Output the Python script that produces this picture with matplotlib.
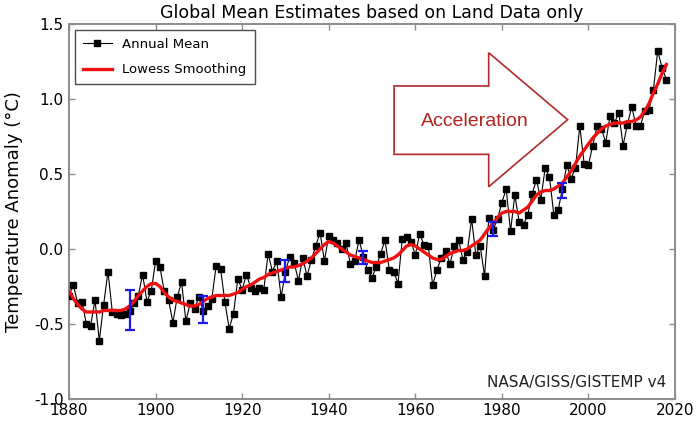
import matplotlib
matplotlib.use('Agg')
import matplotlib.pyplot as plt
from matplotlib.patches import Polygon
import numpy as np

# --- data ---
years = np.arange(1880, 2019)

annual_mean = [
    -0.31, -0.24, -0.36, -0.35, -0.50, -0.51, -0.34, -0.61, -0.37, -0.15,   # 1880s
    -0.42, -0.43, -0.44, -0.43, -0.41, -0.36, -0.31, -0.17, -0.35, -0.28,   # 1890s
    -0.08, -0.12, -0.28, -0.34, -0.49, -0.32, -0.22, -0.48, -0.36, -0.40,   # 1900s
    -0.32, -0.41, -0.38, -0.33, -0.11, -0.13, -0.35, -0.53, -0.43, -0.20,   # 1910s
    -0.27, -0.17, -0.26, -0.28, -0.26, -0.27, -0.03, -0.15, -0.08, -0.32,   # 1920s
    -0.15, -0.05, -0.09, -0.21, -0.06, -0.18, -0.07, 0.02, 0.11, -0.08,     # 1930s
    0.09, 0.06, 0.04, 0.00, 0.04, -0.10, -0.08, 0.06, -0.05, -0.14,         # 1940s
    -0.19, -0.12, -0.03, 0.06, -0.14, -0.15, -0.23, 0.07, 0.08, 0.05,       # 1950s
    -0.04, 0.10, 0.03, 0.02, -0.24, -0.14, -0.06, -0.01, -0.10, 0.02,       # 1960s
    0.06, -0.07, -0.02, 0.20, -0.04, 0.02, -0.18, 0.21, 0.13, 0.20,         # 1970s
    0.31, 0.40, 0.12, 0.36, 0.18, 0.16, 0.23, 0.37, 0.46, 0.33,             # 1980s
    0.54, 0.48, 0.23, 0.26, 0.40, 0.56, 0.47, 0.54, 0.82, 0.57,             # 1990s
    0.56, 0.69, 0.82, 0.80, 0.71, 0.89, 0.84, 0.91, 0.69, 0.83,             # 2000s
    0.95, 0.82, 0.82, 0.92, 0.93, 1.06, 1.32, 1.21, 1.13,                   # 2010s
]

lowess = [
    -0.28, -0.33, -0.37, -0.40, -0.42, -0.42, -0.42, -0.42, -0.41, -0.41,
    -0.41, -0.41, -0.41, -0.40, -0.38, -0.35, -0.31, -0.28, -0.25, -0.23,
    -0.23, -0.25, -0.29, -0.32, -0.34, -0.35, -0.36, -0.37, -0.38, -0.38,
    -0.37, -0.35, -0.33, -0.32, -0.31, -0.31, -0.31, -0.31, -0.30, -0.29,
    -0.27, -0.25, -0.24, -0.22, -0.20, -0.19, -0.17, -0.16, -0.15, -0.14,
    -0.13, -0.12, -0.12, -0.11, -0.10, -0.08, -0.06, -0.03, 0.00, 0.03,
    0.05, 0.04, 0.02, 0.00, -0.02, -0.04, -0.05, -0.06, -0.07, -0.08,
    -0.09, -0.09, -0.09, -0.08, -0.07, -0.06, -0.04, -0.01, 0.02, 0.03,
    0.02, 0.00, -0.02, -0.04, -0.06, -0.07, -0.07, -0.05, -0.03, -0.02,
    -0.01, -0.01, 0.00, 0.02, 0.04, 0.06, 0.10, 0.14, 0.17, 0.21,
    0.24, 0.25, 0.25, 0.25, 0.24, 0.26, 0.28, 0.32, 0.36, 0.38,
    0.39, 0.39, 0.40, 0.42, 0.44, 0.48, 0.52, 0.57, 0.62, 0.66,
    0.70, 0.74, 0.77, 0.80, 0.82, 0.83, 0.84, 0.84, 0.84, 0.85,
    0.85, 0.86, 0.88, 0.92, 0.97, 1.04, 1.10, 1.17, 1.23,
]

# uncertainty bars
err_years = [1894, 1911, 1930, 1948, 1978, 1994]
err_center = [-0.405, -0.40, -0.145, -0.055, 0.135, 0.39]
err_half = [0.135, 0.09, 0.075, 0.045, 0.045, 0.05]

fig = plt.figure(figsize=(7.0, 4.22), dpi=100)
ax = fig.add_axes([0.0986, 0.0545, 0.8657, 0.8886])

ax.plot(years, annual_mean, color='black', lw=0.8, marker='s', ms=5,
        mec='black', mfc='black', label='Annual Mean', zorder=3)
ax.plot(years, lowess, color='#ee1111', lw=2.4, label='Lowess Smoothing', zorder=4)
ax.errorbar(err_years, err_center, yerr=err_half, fmt='none', ecolor='#1a1aee',
            elinewidth=1.6, capsize=3.5, capthick=1.6, zorder=5)

# hollow "Acceleration" arrow
arrow = Polygon([(1955.1, 1.087), (1976.95, 1.087), (1976.95, 1.309), (1995.2, 0.862),
                 (1976.95, 0.415), (1976.95, 0.631), (1955.1, 0.631)],
                closed=True, fc='white', ec='#b02a2a', lw=1.2, zorder=2)
ax.add_patch(arrow)
ax.text(1973.7, 0.848, 'Acceleration', color='#b5231f', fontsize=14,
        family='Liberation Sans', ha='center', va='center', zorder=6)

ax.text(0.985, 0.045, 'NASA/GISS/GISTEMP v4', transform=ax.transAxes,
        ha='right', va='center', fontsize=11, color='#222222')

ax.set_xlim(1880, 2020)
ax.set_ylim(-1.0, 1.5)
ax.set_xticks(range(1880, 2021, 20))
ax.set_yticks([-1.0, -0.5, 0.0, 0.5, 1.0, 1.5])
ax.set_yticklabels(['-1.0', '-0.5', '0.0', '0.5', '1.0', '1.5'])
ax.tick_params(direction='in', top=True, right=True, length=4, width=1,
               color='0.55', labelsize=11)
ax.tick_params(axis='y', pad=4)
ax.tick_params(axis='x', pad=3)
for s in ax.spines.values():
    s.set_color('0.55')
    s.set_linewidth(1.4)

ax.set_title('Global Mean Estimates based on Land Data only', fontsize=12.5, pad=4)
ax.set_ylabel('Temperature Anomaly (°C)', fontsize=13, labelpad=8)

leg = ax.legend(loc='upper left', fontsize=9.5, fancybox=False, framealpha=1,
                edgecolor='0.3', borderaxespad=0.45, handlelength=2.2,
                labelspacing=0.95, borderpad=0.6)
leg.get_frame().set_linewidth(1.0)

fig.savefig('out.png', dpi=100)
